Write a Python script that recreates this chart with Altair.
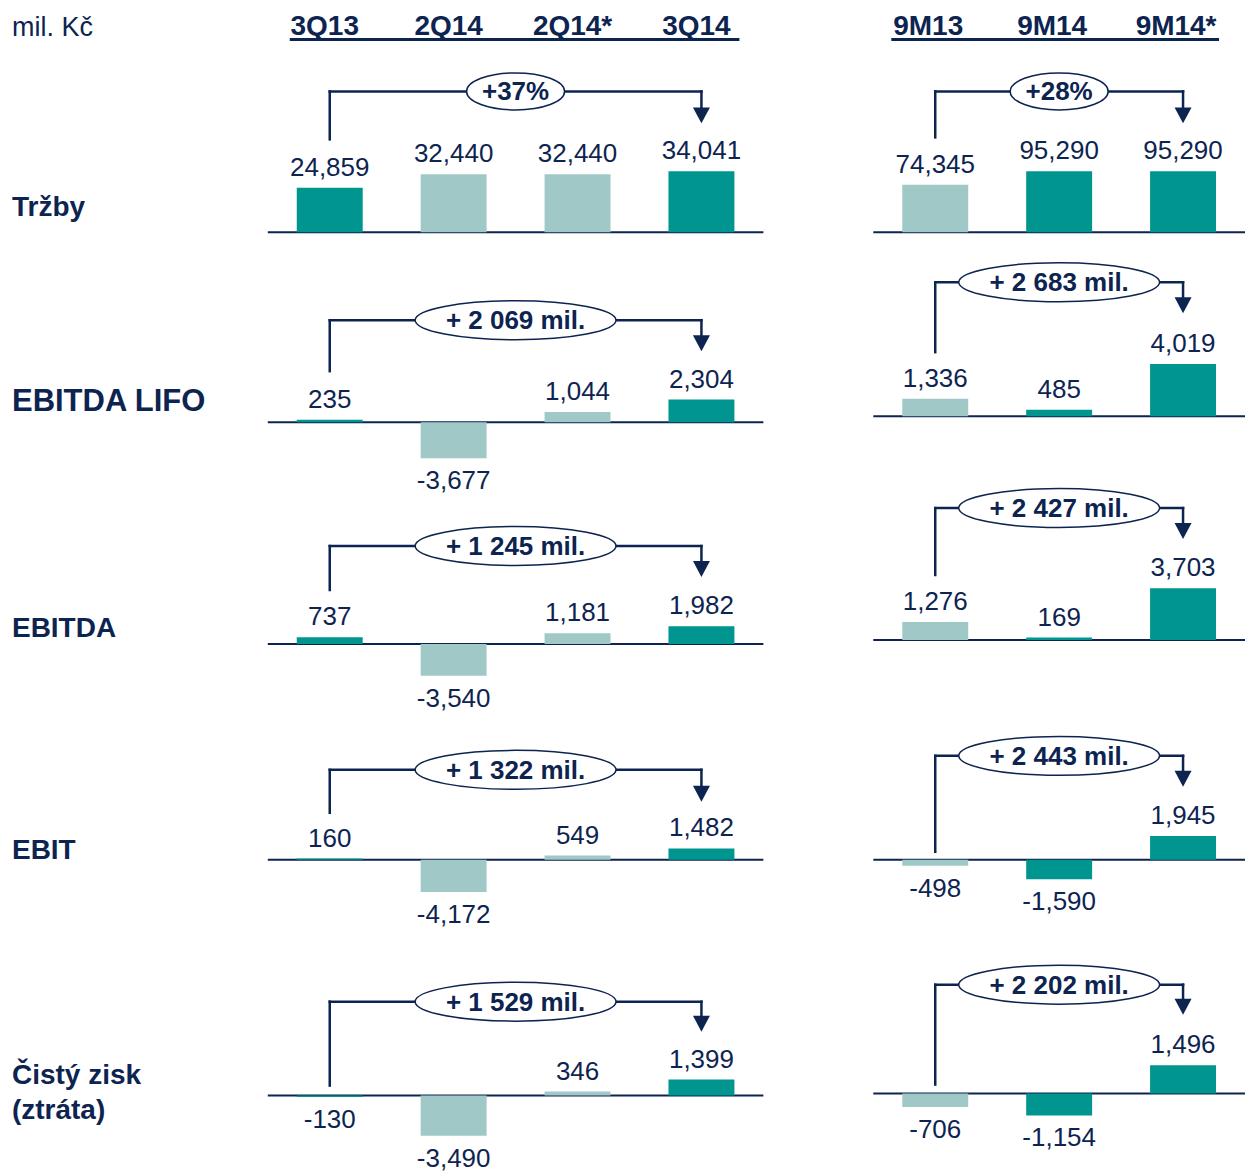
import altair as alt
import pandas as pd

# ---------------- data ----------------
UNIT = "mil. Kč"
Q_PERIODS = ["3Q13", "2Q14", "2Q14*", "3Q14"]
M_PERIODS = ["9M13", "9M14", "9M14*"]
METRICS = [["Tržby"], ["EBITDA LIFO"], ["EBITDA"], ["EBIT"], ["Čistý zisk", "(ztráta)"]]

Q_TRZBY = [24859, 32440, 32440, 34041]
M_TRZBY = [74345, 95290, 95290]
Q_EBITDA_LIFO = [235, -3677, 1044, 2304]
M_EBITDA_LIFO = [1336, 485, 4019]
Q_EBITDA = [737, -3540, 1181, 1982]
M_EBITDA = [1276, 169, 3703]
Q_EBIT = [160, -4172, 549, 1482]
M_EBIT = [-498, -1590, 1945]
Q_NET = [-130, -3490, 346, 1399]
M_NET = [-706, -1154, 1496]

Q_CHANGE = ["+37%", "+ 2 069 mil.", "+ 1 245 mil.", "+ 1 322 mil.", "+ 1 529 mil."]
M_CHANGE = ["+28%", "+ 2 683 mil.", "+ 2 427 mil.", "+ 2 443 mil.", "+ 2 202 mil."]

Q_VALUES = [Q_TRZBY, Q_EBITDA_LIFO, Q_EBITDA, Q_EBIT, Q_NET]
M_VALUES = [M_TRZBY, M_EBITDA_LIFO, M_EBITDA, M_EBIT, M_NET]

# ---------------- style / layout ----------------
NAVY = "#0D2451"
DARK = "#00968F"
LIGHT = "#A0C8C6"
FONT = "Liberation Sans"

Q_SHADES = ["dark", "light", "light", "dark"]
M_SHADES = ["light", "dark", "dark"]

LABEL_W, Q_W, M_W, GAP = 158, 496, 372, 110
HEADER_H = 55
ROW_TOPS = [55, 250, 480, 700, 940]
ROW_END = 1172

# per row: (baseline px, px per unit, bracket (top, leg end, arrow tip)) in page coords
Q_LAYOUT = [
    (232, 0.001792, (91, 139, 123)),
    (422, 0.0098, (320, 371, 351)),
    (644, 0.0090, (546, 590, 577)),
    (860, 0.0077, (770, 813, 802)),
    (1096, 0.0115, (1002, 1086, 1032)),
]
M_LAYOUT = [
    (232, 0.00064, (91, 137, 123)),
    (416, 0.0130, (282, 352, 313)),
    (640, 0.0140, (508, 575, 539)),
    (860, 0.0122, (756, 852, 787)),
    (1094, 0.0190, (985, 1085, 1015)),
]
LABEL_BASELINES = [[216], [411], [637], [859], [1084, 1119]]
LABEL_SIZES = [28, 31, 28, 28, 28]


def ellipse_path(r):
    k = 0.5523
    return (f"M -1 0 C -1 {-k*r:.4f} {-k} {-r:.4f} 0 {-r:.4f} "
            f"C {k} {-r:.4f} 1 {-k*r:.4f} 1 0 "
            f"C 1 {k*r:.4f} {k} {r:.4f} 0 {r:.4f} "
            f"C {-k} {r:.4f} -1 {k*r:.4f} -1 0 Z")


TRIANGLE = "M -1 -0.94 L 1 -0.94 L 0 0.94 Z"


def panel(periods, values, shades, change, width, height, row_top, layout):
    base_abs, k, (b_top, b_leg, b_tip) = layout
    base = base_abs - row_top
    top, leg, tip = b_top - row_top, b_leg - row_top, b_tip - row_top
    n = len(periods)
    df = pd.DataFrame({
        "period": periods,
        "idx": list(range(n)),
        "value": values,
        "zero": [0] * n,
        "label": [f"{v:,}" for v in values],
        "shade": shades,
    })
    bdf = pd.DataFrame({"x0": [0], "x1": [n - 1], "xm": [(n - 1) / 2],
                        "text": [change], "zero": [0]})
    xs = alt.Scale(domain=[-0.5, n - 0.5], nice=False, zero=False, padding=0)
    ys = alt.Scale(domain=[(base - height) / k, base / k], nice=False, zero=False, padding=0)

    def X(f):
        return alt.X(f, type="quantitative", scale=xs, axis=None)

    def Y(f):
        return alt.Y(f, type="quantitative", scale=ys, axis=None)

    baseline = alt.Chart(bdf).mark_rule(color=NAVY, strokeWidth=2).encode(
        x=alt.value(0), x2=alt.value(width), y=Y("zero"))
    bars = alt.Chart(df).mark_bar(size=66).encode(
        x=X("idx"), y=Y("value"), y2=alt.Y2("zero"),
        color=alt.Color("shade:N", scale=alt.Scale(domain=["dark", "light"], range=[DARK, LIGHT]),
                        legend=None))
    pos = alt.Chart(df).transform_filter("datum.value >= 0").mark_text(
        font=FONT, fontSize=26, color=NAVY, baseline="alphabetic", dy=-12).encode(
        x=X("idx"), y=Y("value"), text="label:N")
    neg = alt.Chart(df).transform_filter("datum.value < 0").mark_text(
        font=FONT, fontSize=26, color=NAVY, baseline="top", dy=10).encode(
        x=X("idx"), y=Y("value"), text="label:N")
    rule_kw = dict(color=NAVY, strokeWidth=2.5, strokeCap="square")
    left_leg = alt.Chart(bdf).mark_rule(**rule_kw).encode(
        x=X("x0"), y=alt.value(top), y2=alt.value(leg))
    horiz = alt.Chart(bdf).mark_rule(**rule_kw).encode(
        x=X("x0"), x2=alt.X2("x1"), y=alt.value(top))
    right_leg = alt.Chart(bdf).mark_rule(**rule_kw).encode(
        x=X("x1"), y=alt.value(top), y2=alt.value(tip - 12))
    arrow = alt.Chart(bdf).mark_point(shape=TRIANGLE, size=289, filled=True, fill=NAVY,
                                      opacity=1, strokeWidth=0).encode(
        x=X("x1"), y=alt.value(tip - 8))
    is_pct = change.endswith("%")
    ew, eh = (98, 37) if is_pct else (201, 39)
    ell = alt.Chart(bdf).mark_point(shape=ellipse_path(eh / ew), size=ew * ew, filled=True,
                                    fill="white", stroke=NAVY, strokeWidth=1.5,
                                    opacity=1).encode(
        x=X("xm"), y=alt.value(top))
    etext = alt.Chart(bdf).mark_text(font=FONT, fontSize=26, fontWeight="bold", color=NAVY,
                                     baseline="alphabetic", dy=9).encode(
        x=X("xm"), y=alt.value(top), text="text:N")
    return alt.layer(baseline, bars, pos, neg, left_leg, horiz, right_leg, ell, etext,
                     arrow).properties(width=width, height=height)


def label_panel(lines, baselines, size, row_top, height, bold=True):
    layers = []
    for line, b in zip(lines, baselines):
        d = pd.DataFrame({"t": [line]})
        layers.append(alt.Chart(d).mark_text(
            font=FONT, fontSize=size, fontWeight="bold" if bold else "normal",
            color=NAVY, align="left", baseline="alphabetic").encode(
            x=alt.value(12), y=alt.value(b - row_top), text="t:N"))
    return alt.layer(*layers).properties(width=LABEL_W, height=height)


def header_panel(periods, width, ul, dx):
    n = len(periods)
    d = pd.DataFrame({"period": periods, "idx": list(range(n))})
    xs = alt.Scale(domain=[-0.5, n - 0.5], nice=False, zero=False, padding=0)
    txt = alt.Chart(d).mark_text(font=FONT, fontSize=28, fontWeight="bold", color=NAVY,
                                 baseline="alphabetic", dx=dx).encode(
        x=alt.X("idx:Q", scale=xs, axis=None), y=alt.value(35), text="period:N")
    line = alt.Chart(pd.DataFrame({"a": [0]})).mark_rule(color=NAVY, strokeWidth=3).encode(
        x=alt.value(ul[0]), x2=alt.value(ul[1]), y=alt.value(39))
    return alt.layer(txt, line).properties(width=width, height=HEADER_H)


cells = [
    label_panel([UNIT], [36], 27, 0, HEADER_H, bold=False),
    header_panel(Q_PERIODS, Q_W, (22, 472), -5),
    header_panel(M_PERIODS, M_W, (18, 346), -7),
]

for i in range(5):
    top = ROW_TOPS[i]
    bottom = ROW_TOPS[i + 1] if i + 1 < len(ROW_TOPS) else ROW_END
    h = bottom - top
    cells += [
        label_panel(METRICS[i], LABEL_BASELINES[i], LABEL_SIZES[i], top, h),
        panel(Q_PERIODS, Q_VALUES[i], Q_SHADES, Q_CHANGE[i], Q_W, h, top, Q_LAYOUT[i]),
        panel(M_PERIODS, M_VALUES[i], M_SHADES, M_CHANGE[i], M_W, h, top, M_LAYOUT[i]),
    ]

chart = alt.concat(*cells, columns=3, spacing={"row": 0, "column": GAP},
                   bounds="flush").properties(
    padding=0, background="white").configure_view(stroke=None)

chart.save("out.html", embed_options={"renderer": "svg", "actions": False})
